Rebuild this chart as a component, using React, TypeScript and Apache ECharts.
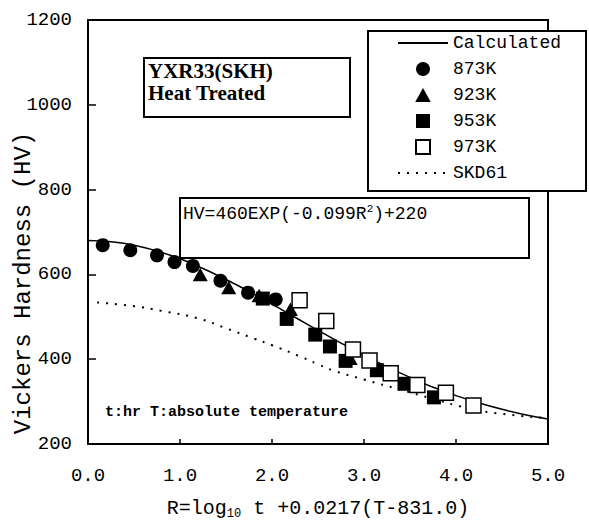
import React, { useEffect, useRef } from "react";
import * as echarts from "echarts";

// Calculated curve, R vs HV
const calcR = [0, 0.25, 0.5, 0.75, 1.0, 1.25, 1.5, 1.75, 2.0, 2.25, 2.5, 2.75, 3.0, 3.25, 3.5, 3.75, 4.0, 4.25, 4.5, 4.75, 5.0];
const calcHV = [680, 677, 669, 655, 637, 614, 588, 560, 530, 499, 468, 438, 409, 382, 357, 334, 314, 297, 282, 269, 259];

// SKD61 dotted curve
const skdR = [0.1, 0.5, 0.8, 1.2, 1.5, 1.8, 2.0, 2.3, 2.5, 2.67, 3.0, 3.4, 3.76, 4.12, 4.5, 4.95];
const skdHV = [534, 525, 514, 496, 473, 449, 433, 407, 388, 373, 352, 328, 306, 285, 271, 262];

// Measured points [R, HV]
const pts873 = [[0.16, 669], [0.46, 657], [0.75, 645], [0.94, 629], [1.14, 620], [1.44, 585], [1.74, 557], [2.04, 541]];
const pts923 = [[1.22, 600], [1.53, 569], [1.86, 550], [2.2, 518], [2.85, 402]];
const pts953 = [[1.9, 543], [2.16, 495], [2.47, 458], [2.63, 430], [2.8, 396], [3.14, 374], [3.44, 342], [3.76, 310]];
const pts973 = [[2.3, 539], [2.59, 490], [2.88, 423], [3.06, 397], [3.29, 367], [3.58, 339], [3.89, 321], [4.19, 291]];

const legendNames = ["Calculated", "873K", "923K", "953K", "973K", "SKD61"];
const xTitle = "R=log{sub|10} t +0.0217(T-831.0)";
const yTitle = "Vickers Hardness (HV)";
const formulaText = "HV=460EXP(-0.099R{sup|2})+220";
const boxTitle1 = "YXR33(SKH)";
const boxTitle2 = "Heat Treated";
const noteText = "t:hr T:absolute temperature";

const MONO = "'Liberation Mono', 'DejaVu Sans Mono', monospace";
const SERIF = "'Liberation Serif', 'DejaVu Serif', serif";

const TRI = "path://M5,0 L10,9 L0,9 Z";
const SQ = "path://M0,0 L10,0 L10,10 L0,10 Z";

export default function App() {
  const ref = useRef<HTMLDivElement>(null);
  useEffect(() => {
    if (!ref.current) return;
    const chart = echarts.init(ref.current, null, { renderer: "svg" });
    const calcData = calcR.map((r, i) => [r, calcHV[i]]);
    const skdData = skdR.map((r, i) => [r, skdHV[i]]);
    const hiddenDot = { color: "rgba(0,0,0,0)", borderWidth: 0, opacity: 0 };
    const option: any = {
      animation: false,
      backgroundColor: "#fff",
      grid: {
        left: 88,
        right: 41,
        top: 20,
        bottom: 73,
        show: true,
        borderColor: "#000",
        borderWidth: 2,
      },
      xAxis: {
        type: "value",
        min: 0,
        max: 5,
        interval: 1,
        axisLine: { lineStyle: { color: "#000", width: 2 } },
        axisTick: { inside: true, length: 5, lineStyle: { color: "#000", width: 1.5 } },
        splitLine: { show: false },
        axisLabel: {
          color: "#000",
          fontFamily: MONO,
          fontSize: 19,
          margin: 22,
          formatter: (v: number) => v.toFixed(1),
        },
        name: xTitle,
        nameLocation: "middle",
        nameGap: 52,
        nameTextStyle: {
          color: "#000",
          fontFamily: MONO,
          fontSize: 20,
          lineHeight: 24,
          rich: {
            sub: { fontFamily: MONO, fontSize: 12, color: "#000", verticalAlign: "bottom", lineHeight: 12 },
          },
        },
      },
      yAxis: {
        type: "value",
        min: 200,
        max: 1200,
        interval: 200,
        axisLine: { show: true, lineStyle: { color: "#000", width: 2 } },
        axisTick: { show: true, inside: true, length: 8, lineStyle: { color: "#000", width: 1.5 } },
        splitLine: { show: false },
        axisLabel: {
          color: "#000",
          fontFamily: MONO,
          fontSize: 19,
          margin: 16,
          formatter: (v: number) => String(v),
        },
      },
      legend: {
        orient: "vertical",
        left: 368,
        top: 31,
        itemWidth: 50,
        itemHeight: 14,
        itemGap: 8,
        padding: [3, 25, 9, 29],
        borderColor: "#000",
        borderWidth: 2,
        backgroundColor: "#fff",
        symbolKeepAspect: true,
        textStyle: { fontFamily: MONO, fontSize: 18, color: "#000" },
        data: [
          { name: legendNames[0], itemStyle: hiddenDot },
          legendNames[1],
          legendNames[2],
          legendNames[3],
          legendNames[4],
          { name: legendNames[5], itemStyle: hiddenDot },
        ],
      },
      graphic: [
        {
          type: "text",
          x: 23,
          y: 283,
          rotation: Math.PI / 2,
          style: {
            text: yTitle,
            font: `24px ${MONO}`,
            fill: "#000",
            align: "center",
            verticalAlign: "middle",
          },
        },
        {
          type: "rect",
          shape: { x: 144, y: 58, width: 206, height: 59 },
          style: { fill: "#fff", stroke: "#000", lineWidth: 2 },
          z: 10,
        },
        {
          type: "text",
          x: 148,
          y: 71,
          style: { text: boxTitle1, font: `bold 21px ${SERIF}`, fill: "#000", verticalAlign: "middle" },
          z: 11,
        },
        {
          type: "text",
          x: 148,
          y: 93,
          style: { text: boxTitle2, font: `bold 21px ${SERIF}`, fill: "#000", verticalAlign: "middle" },
          z: 11,
        },
        {
          type: "rect",
          shape: { x: 180, y: 198, width: 349, height: 60 },
          style: { fill: "#fff", stroke: "#000", lineWidth: 2 },
          z: 10,
        },
        {
          type: "text",
          x: 183,
          y: 214,
          style: {
            text: formulaText,
            font: `18px ${MONO}`,
            fill: "#000",
            verticalAlign: "middle",
            rich: { sup: { fontFamily: MONO, fontSize: 11, fill: "#000", verticalAlign: "top", lineHeight: 22 } },
          },
          z: 11,
        },
        {
          type: "text",
          x: 105,
          y: 412,
          style: { text: noteText, font: `bold 15px ${MONO}`, fill: "#000", verticalAlign: "middle" },
          z: 11,
        },
      ],
      series: [
        {
          name: "Calculated",
          type: "line",
          data: calcData,
          smooth: true,
          symbol: "none",
          showSymbol: false,
          lineStyle: { color: "#000", width: 1.5 },
          itemStyle: { color: "#000" },
          z: 2,
        },
        {
          name: "SKD61",
          type: "line",
          data: skdData,
          smooth: true,
          symbol: "none",
          showSymbol: false,
          lineStyle: { color: "#000", width: 2, type: [2, 7] },
          itemStyle: { color: "#000" },
          z: 2,
        },
        {
          name: "873K",
          type: "scatter",
          data: pts873,
          symbol: "circle",
          symbolSize: 14,
          itemStyle: { color: "#000", opacity: 1 },
          z: 3,
        },
        {
          name: "923K",
          type: "scatter",
          data: pts923,
          symbol: TRI,
          symbolSize: 15,
          symbolKeepAspect: true,
          itemStyle: { color: "#000", opacity: 1 },
          z: 3,
        },
        {
          name: "953K",
          type: "scatter",
          data: pts953,
          symbol: SQ,
          symbolSize: 14,
          itemStyle: { color: "#000", opacity: 1 },
          z: 3,
        },
        {
          name: "973K",
          type: "scatter",
          data: pts973,
          symbol: SQ,
          symbolSize: 15,
          itemStyle: { color: "#fff", borderColor: "#000", borderWidth: 1.5, opacity: 1 },
          z: 4,
        },
      ],
    };
    chart.setOption(option);
    return () => chart.dispose();
  }, []);
  return <div ref={ref} style={{ width: 589, height: 525, position: "absolute", left: 0, top: 0 }} />;
}
